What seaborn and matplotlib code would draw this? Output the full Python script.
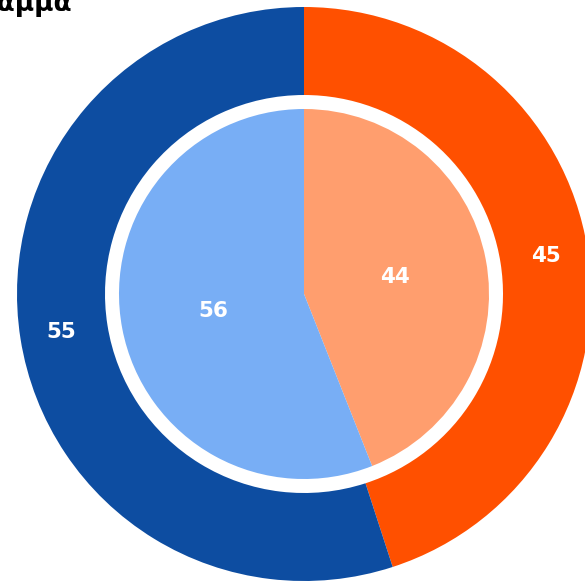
import matplotlib
matplotlib.use('Agg')
import matplotlib.pyplot as plt
import seaborn as sns

# Data
outer_labels = ['A', 'B']
outer_values = [45, 55]
inner_labels = ['A', 'B']
inner_values = [44, 56]
outer_colors = ['#FF5000', '#0D4DA1']
inner_colors = ['#FF9E6E', '#78AEF5']
title = 'Διάγραμμα'

sns.set_style('white')
plt.rcParams['font.family'] = ['DejaVu Sans']

fig = plt.figure(figsize=(5.85, 5.84), dpi=100)
ax = fig.add_axes([0, 0, 1, 1])

center = (304, 290)

# Outer ring
wedges, texts = ax.pie(outer_values, colors=outer_colors, radius=287, center=center,
                       startangle=90, counterclock=False,
                       labels=[str(v) for v in outer_values], labeldistance=0.855,
                       wedgeprops=dict(width=88, linewidth=0), frame=True,
                       textprops=dict(color='white', fontsize=15.5, fontweight='bold'))

# Inner pie
wedges2, texts2 = ax.pie(inner_values, colors=inner_colors, radius=185, center=center,
                         startangle=90, counterclock=False,
                         labels=[str(v) for v in inner_values], labeldistance=0.5,
                         wedgeprops=dict(linewidth=0), frame=True,
                         textprops=dict(color='white', fontsize=15.5, fontweight='bold'))
for t in texts + texts2:
  t.set_ha('center')
  t.set_va('center')

ax.set_xlim(0, 585)
ax.set_ylim(0, 584)
ax.set_aspect('equal')
ax.axis('off')

fig.text(72 / 585, 1 - 11 / 584, title, ha='right', va='baseline',
         fontsize=19, fontweight='bold', color='black')

fig.savefig('out.png', dpi=100)
